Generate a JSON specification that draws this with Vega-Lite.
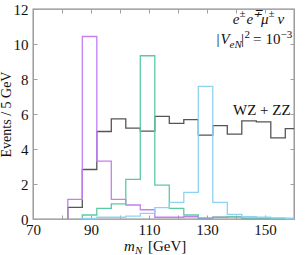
{
  "$schema": "https://vega.github.io/schema/vega-lite/v6.json",
  "width": 261,
  "height": 210,
  "autosize": {"type": "none"},
  "padding": {"left": 33, "top": 9, "right": 13, "bottom": 36},
  "config": {
    "view": {"stroke": "#8c8c8c", "strokeWidth": 1.3},
    "axis": {"grid": false, "domain": false, "tickColor": "#a0a0a0", "tickWidth": 1, "labelFont": "Liberation Serif", "labelFontSize": 15, "labelColor": "#111", "titleFont": "Liberation Serif", "titleFontWeight": "normal", "titleFontSize": 14, "titleColor": "#111"},
    "text": {"font": "Liberation Serif", "color": "#111", "align": "left", "baseline": "alphabetic"}
  },
  "resolve": {"axis": {"x": "independent", "y": "independent"}},
  "layer": [
    {
      "data": {"values": [
        {"s": "WZ", "i": 0, "x": 82, "y": 0}, {"s": "WZ", "i": 1, "x": 82, "y": 0.67}, {"s": "WZ", "i": 2, "x": 87, "y": 2.83}, {"s": "WZ", "i": 3, "x": 92, "y": 5.0}, {"s": "WZ", "i": 4, "x": 97, "y": 5.72}, {"s": "WZ", "i": 5, "x": 102, "y": 5.19}, {"s": "WZ", "i": 6, "x": 107, "y": 5.02}, {"s": "WZ", "i": 7, "x": 112, "y": 5.87}, {"s": "WZ", "i": 8, "x": 117, "y": 5.47}, {"s": "WZ", "i": 9, "x": 122, "y": 5.68}, {"s": "WZ", "i": 10, "x": 127, "y": 4.79}, {"s": "WZ", "i": 11, "x": 132, "y": 5.34}, {"s": "WZ", "i": 12, "x": 137, "y": 4.85}, {"s": "WZ", "i": 13, "x": 142, "y": 5.61}, {"s": "WZ", "i": 14, "x": 147, "y": 5.55}, {"s": "WZ", "i": 15, "x": 152, "y": 4.64}, {"s": "WZ", "i": 16, "x": 157, "y": 5.17}, {"s": "WZ", "i": 17, "x": 160, "y": 5.17},
        {"s": "m90", "i": 0, "x": 82, "y": 0}, {"s": "m90", "i": 1, "x": 82, "y": 1.12}, {"s": "m90", "i": 2, "x": 87, "y": 10.43}, {"s": "m90", "i": 3, "x": 92, "y": 3.31}, {"s": "m90", "i": 4, "x": 97, "y": 1.12}, {"s": "m90", "i": 5, "x": 102, "y": 0.8}, {"s": "m90", "i": 6, "x": 107, "y": 0.53}, {"s": "m90", "i": 7, "x": 112, "y": 0.1}, {"s": "m90", "i": 8, "x": 117, "y": 0.1}, {"s": "m90", "i": 9, "x": 122, "y": 0.13}, {"s": "m90", "i": 10, "x": 127, "y": 0.02}, {"s": "m90", "i": 11, "x": 132, "y": 0.1}, {"s": "m90", "i": 12, "x": 137, "y": 0.12}, {"s": "m90", "i": 13, "x": 142, "y": 0.03}, {"s": "m90", "i": 14, "x": 147, "y": 0.02}, {"s": "m90", "i": 15, "x": 152, "y": 0.02}, {"s": "m90", "i": 16, "x": 157, "y": 0.02}, {"s": "m90", "i": 17, "x": 160, "y": 0.02},
        {"s": "m110", "i": 0, "x": 87, "y": 0}, {"s": "m110", "i": 1, "x": 87, "y": 0.23}, {"s": "m110", "i": 2, "x": 92, "y": 0.61}, {"s": "m110", "i": 3, "x": 97, "y": 0.86}, {"s": "m110", "i": 4, "x": 102, "y": 2.26}, {"s": "m110", "i": 5, "x": 107, "y": 9.33}, {"s": "m110", "i": 6, "x": 112, "y": 1.94}, {"s": "m110", "i": 7, "x": 117, "y": 0.61}, {"s": "m110", "i": 8, "x": 122, "y": 0.23}, {"s": "m110", "i": 9, "x": 127, "y": 0.07}, {"s": "m110", "i": 10, "x": 132, "y": 0.1}, {"s": "m110", "i": 11, "x": 137, "y": 0.12}, {"s": "m110", "i": 12, "x": 142, "y": 0.05}, {"s": "m110", "i": 13, "x": 147, "y": 0.05}, {"s": "m110", "i": 14, "x": 152, "y": 0.04}, {"s": "m110", "i": 15, "x": 157, "y": 0.03}, {"s": "m110", "i": 16, "x": 160, "y": 0.03},
        {"s": "m130", "i": 0, "x": 87, "y": 0}, {"s": "m130", "i": 1, "x": 87, "y": 0.03}, {"s": "m130", "i": 2, "x": 92, "y": 0.1}, {"s": "m130", "i": 3, "x": 97, "y": 0.1}, {"s": "m130", "i": 4, "x": 102, "y": 0.17}, {"s": "m130", "i": 5, "x": 107, "y": 0.32}, {"s": "m130", "i": 6, "x": 112, "y": 0.65}, {"s": "m130", "i": 7, "x": 117, "y": 0.95}, {"s": "m130", "i": 8, "x": 122, "y": 1.52}, {"s": "m130", "i": 9, "x": 127, "y": 7.58}, {"s": "m130", "i": 10, "x": 132, "y": 0.95}, {"s": "m130", "i": 11, "x": 137, "y": 0.27}, {"s": "m130", "i": 12, "x": 142, "y": 0.13}, {"s": "m130", "i": 13, "x": 147, "y": 0.1}, {"s": "m130", "i": 14, "x": 152, "y": 0.07}, {"s": "m130", "i": 15, "x": 157, "y": 0.03}, {"s": "m130", "i": 16, "x": 160, "y": 0.03}
      ]},
      "mark": {"type": "line", "interpolate": "step-after", "strokeWidth": 1.3},
      "encoding": {
        "x": {"field": "x", "type": "quantitative", "scale": {"domain": [70, 160], "nice": false, "zero": false},
              "axis": {"orient": "bottom", "title": null, "values": [70, 80, 90, 100, 110, 120, 130, 140, 150, 160], "labelExpr": "datum.value % 20 == 10 ? datum.label : ''", "tickSize": -4, "labelPadding": 7, "labelFlush": false}},
        "y": {"field": "y", "type": "quantitative", "scale": {"domain": [0, 12], "nice": false},
              "axis": {"orient": "left", "title": "Events / 5 GeV", "values": [0, 2, 4, 6, 8, 10, 12], "tickSize": -4, "labelPadding": 9, "titlePadding": 0}},
        "color": {"field": "s", "type": "nominal", "legend": null,
                  "scale": {"domain": ["m130", "m110", "m90", "WZ"], "range": ["#8fd3f3", "#5ccaa0", "#c47ff0", "#555555"]}},
        "order": {"field": "i", "type": "quantitative"}
      }
    },
    {
      "data": {"values": [
        {"t": "e", "x": 138.86, "y": 11.12}, {"t": "e", "x": 143.62, "y": 11.12}, {"t": "μ", "x": 148.62, "y": 11.12}, {"t": "ν", "x": 154.31, "y": 11.12},
        {"t": "V", "x": 134.66, "y": 9.98},
        {"t": "m", "x": 101.38, "y": -1.82}
      ]},
      "mark": {"type": "text", "fontSize": 15, "fontStyle": "italic"},
      "encoding": {
        "x": {"field": "x", "type": "quantitative", "axis": {"orient": "top", "title": null, "labels": false, "values": [70, 80, 90, 100, 110, 120, 130, 140, 150, 160], "tickSize": -4}},
        "y": {"field": "y", "type": "quantitative", "axis": {"orient": "right", "title": null, "labels": false, "values": [0, 2, 4, 6, 8, 10, 12], "tickSize": -4}},
        "text": {"field": "t"}
      }
    },
    {
      "data": {"values": [
        {"t": "±", "x": 141.24, "y": 11.52}, {"t": "∓", "x": 146.03, "y": 11.52}, {"t": "±", "x": 151.21, "y": 11.52},
        {"t": "eN", "x": 137.76, "y": 9.78},
        {"t": "N", "x": 105.17, "y": -2.0}
      ]},
      "mark": {"type": "text", "fontSize": 11, "fontStyle": "italic"},
      "encoding": {
        "x": {"field": "x", "type": "quantitative", "axis": null},
        "y": {"field": "y", "type": "quantitative", "axis": null},
        "text": {"field": "t"}
      }
    },
    {
      "data": {"values": [
        {"t": "|", "x": 133.28, "y": 9.98}, {"t": "|", "x": 141.72, "y": 9.98}, {"t": "=", "x": 145.86, "y": 9.98}, {"t": "10", "x": 150.17, "y": 9.98},
        {"t": "WZ + ZZ", "x": 138.97, "y": 5.93},
        {"t": "[GeV]", "x": 109.66, "y": -1.82}
      ]},
      "mark": {"type": "text", "fontSize": 15},
      "encoding": {
        "x": {"field": "x", "type": "quantitative", "axis": null},
        "y": {"field": "y", "type": "quantitative", "axis": null},
        "text": {"field": "t"}
      }
    },
    {
      "data": {"values": [
        {"t": "2", "x": 142.93, "y": 10.35}, {"t": "−3", "x": 155.34, "y": 10.35}
      ]},
      "mark": {"type": "text", "fontSize": 11},
      "encoding": {
        "x": {"field": "x", "type": "quantitative", "axis": null},
        "y": {"field": "y", "type": "quantitative", "axis": null},
        "text": {"field": "t"}
      }
    }
  ]
}
